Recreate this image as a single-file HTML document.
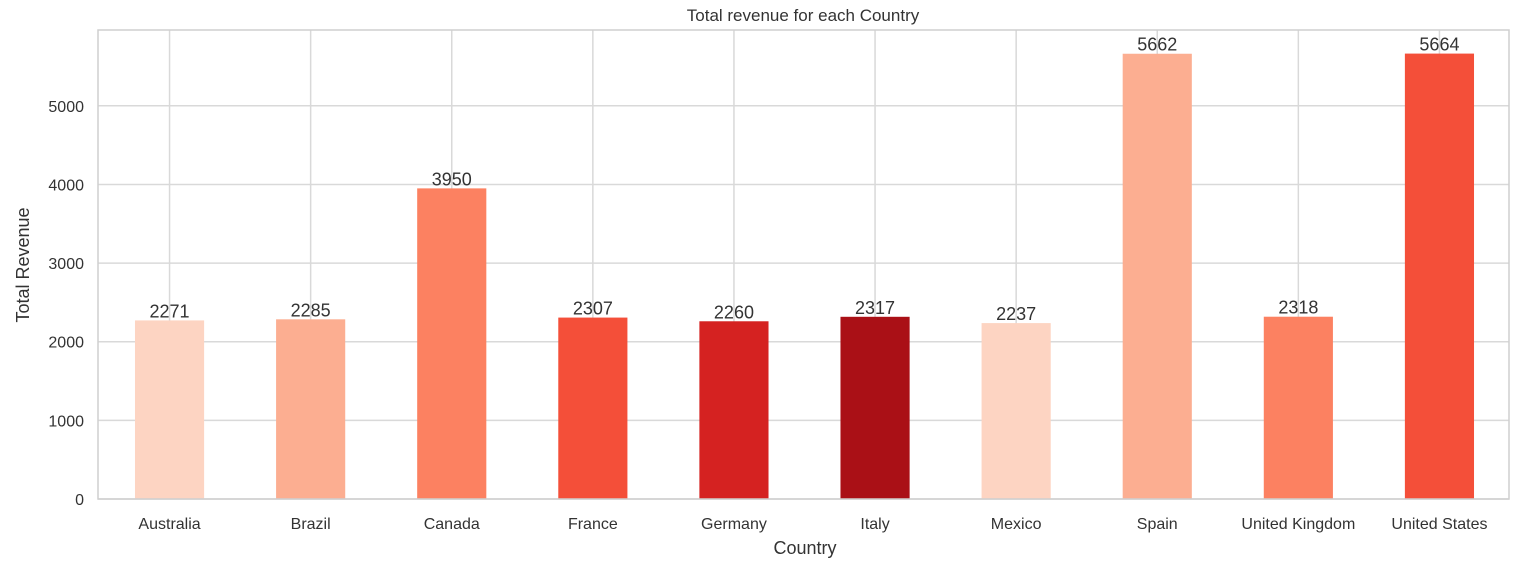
<!DOCTYPE html>
<html><head><meta charset="utf-8"><style>
body{margin:0;background:#fff;font-family:"Liberation Sans",Arial,sans-serif;}
svg text{font-family:"Liberation Sans",Arial,sans-serif;fill:#333;}
</style></head><body>
<svg id="chart" width="1519" height="564">
<text x="803" y="21" text-anchor="middle" font-size="17">Total revenue for each Country</text>
<g id="grid"></g><g id="bars"></g><g id="labels"></g>
<rect x="98" y="30" width="1411" height="469" fill="none" stroke="#cfcfcf" stroke-width="1.5"/>
<text x="805" y="554" text-anchor="middle" font-size="18">Country</text>
<text transform="translate(29,265) rotate(-90)" text-anchor="middle" font-size="18">Total Revenue</text>
</svg>
<script>
const categories=["Australia","Brazil","Canada","France","Germany","Italy","Mexico","Spain","United Kingdom","United States"];
const revenue=[2271,2285,3950,2307,2260,2317,2237,5662,2318,5664];
const yTicks=[0,1000,2000,3000,4000,5000];
const colors=["#fdd4c2","#fcae91","#fc8161","#f44f39","#d52221","#aa1016","#fdd4c2","#fcae91","#fc8161","#f44f39"];
const NS="http://www.w3.org/2000/svg";
const L=98,R=1509,T=30,B=499,yMax=5964;
const y=v=>B-(v/yMax)*(B-T);
const slot=(R-L)/categories.length;
const x=i=>L+slot*(i+0.5)+1;
function mk(tag,attrs,parent){const e=document.createElementNS(NS,tag);for(const k in attrs)e.setAttribute(k,attrs[k]);document.getElementById(parent).appendChild(e);return e;}
yTicks.forEach(t=>{
 const l=mk("line",{x1:L,x2:R,y1:y(t),y2:y(t),stroke:"#d9d9d9","stroke-width":1.5},"grid");
 
 
 const tx=mk("text",{x:L-14,y:y(t)+6,"text-anchor":"end","font-size":16},"labels");
 tx.textContent=t;
 
 
});
categories.forEach((c,i)=>{
 const g=mk("line",{x1:x(i),x2:x(i),y1:T,y2:B,stroke:"#d9d9d9","stroke-width":1.5},"grid");
 
 
 const w=slot*0.49;
 const r=mk("rect",{x:x(i)-w/2,y:y(revenue[i]),width:w,height:B-y(revenue[i]),fill:colors[i]},"bars");
 
 
 const v=mk("text",{x:x(i),y:y(revenue[i])-3,"text-anchor":"middle","font-size":18},"labels");
 v.textContent=revenue[i];
 
 
 const xl=mk("text",{x:x(i),y:529,"text-anchor":"middle","font-size":16},"labels");
 xl.textContent=c;
 
 
});
</script>
</body></html>
